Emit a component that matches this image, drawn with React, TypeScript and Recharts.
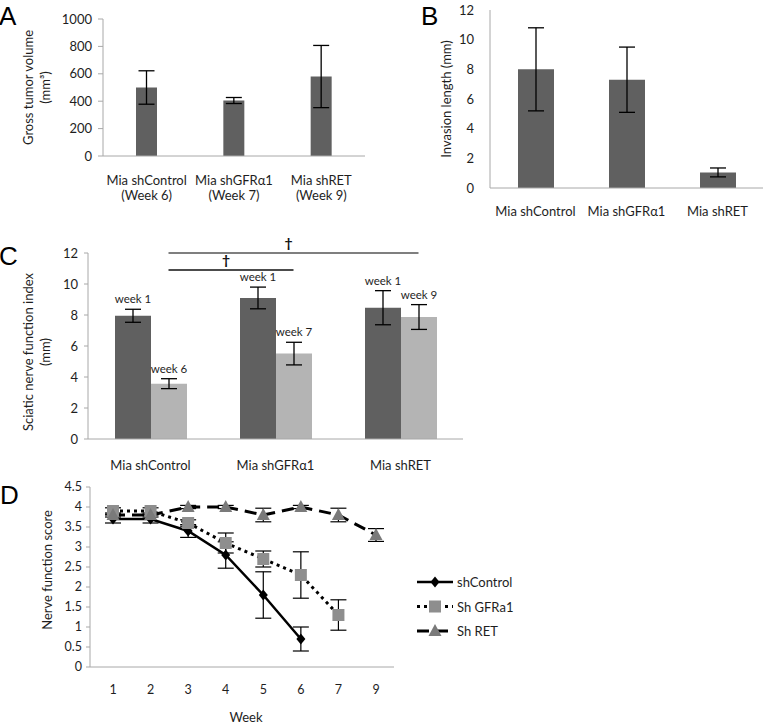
import React from 'react';
import {
  BarChart,
  Bar,
  XAxis,
  YAxis,
  ErrorBar,
  LabelList,
  LineChart,
  Line,
  ReferenceLine,
  Legend,
} from 'recharts';

const FONT = 'Lato, "Open Sans", "DejaVu Sans", sans-serif';
const LETTER_FONT = '"Liberation Sans", Arial, sans-serif';
const TEXT = '#1e1e1e';
const AXIS = '#a8a8a8';
const DARK = '#606060';
const LIGHT = '#b4b4b4';

// ---------- Panel A: gross tumor volume ----------
const volumeGroups = ['Mia shControl', 'Mia shGFRα1', 'Mia shRET'];
const volumeWeeks = ['(Week 6)', '(Week 7)', '(Week 9)'];
const volumeValues = [500, 405, 580];
const volumeErrors = [122, 22, 227];
const volumeTicks = [0, 200, 400, 600, 800, 1000];

// ---------- Panel B: invasion length ----------
const invasionGroups = ['Mia shControl', 'Mia shGFRα1', 'Mia shRET'];
const invasionValues = [8.0, 7.3, 1.05];
const invasionErrors = [2.8, 2.2, 0.3];
const invasionTicks = [0, 2, 4, 6, 8, 10, 12];

// ---------- Panel C: sciatic nerve function index ----------
const sciaticGroups = ['Mia shControl', 'Mia shGFRα1', 'Mia shRET'];
const sciaticWeek1 = [7.95, 9.1, 8.47];
const sciaticWeek1Err = [0.42, 0.7, 1.1];
const sciaticWeek1Labels = ['week 1', 'week 1', 'week 1'];
const sciaticEnd = [3.57, 5.51, 7.87];
const sciaticEndErr = [0.32, 0.73, 0.8];
const sciaticEndLabels = ['week 6', 'week 7', 'week 9'];
const sciaticTicks = [0, 2, 4, 6, 8, 10, 12];
const sigFrom = [0, 0];
const sigTo = [2, 1];
const sigLevel = [12, 10.9];
const sigMark = ['†', '†'];

// ---------- Panel D: nerve function score ----------
const weeks = ['1', '2', '3', '4', '5', '6', '7', '9'];
const shControl = [3.7, 3.7, 3.4, 2.8, 1.8, 0.7, null, null];
const shControlErr = [0.1, 0.1, 0.16, 0.33, 0.58, 0.3, null, null];
const shGFRa1 = [3.9, 3.9, 3.6, 3.1, 2.7, 2.3, 1.3, null];
const shGFRa1Err = [0.08, 0.08, 0.08, 0.25, 0.2, 0.58, 0.38, null];
const shRET = [3.8, 3.8, 4.0, 4.0, 3.8, 4.0, 3.8, 3.3];
const shRETErr = [0.05, 0.05, 0.04, 0.04, 0.17, 0.04, 0.17, 0.16];
const nerveTicks = [0, 0.5, 1, 1.5, 2, 2.5, 3, 3.5, 4, 4.5];
const seriesNames = ['shControl', 'Sh GFRa1', 'Sh RET'];

// ---------- tables ----------
const volumeData = volumeGroups.map((g, i) => ({ group: g, value: volumeValues[i], err: volumeErrors[i] }));
const invasionData = invasionGroups.map((g, i) => ({ group: g, value: invasionValues[i], err: invasionErrors[i] }));
const sciaticData = sciaticGroups.map((g, i) => ({
  group: g,
  week1: sciaticWeek1[i],
  week1Err: sciaticWeek1Err[i],
  end: sciaticEnd[i],
  endErr: sciaticEndErr[i],
}));
const nerveData = weeks.map((w, i) => ({
  week: w,
  shControl: shControl[i],
  shControlErr: shControlErr[i],
  shGFRa1: shGFRa1[i],
  shGFRa1Err: shGFRa1Err[i],
  shRET: shRET[i],
  shRETErr: shRETErr[i],
}));

const BAR_C = 36;

// ---------- helpers ----------
function AxisTitle(props: any) {
  const { viewBox, lines, dist, dy = 0, fontSize = 13 } = props;
  if (!viewBox) return null;
  const right = viewBox.x + viewBox.width;
  const cy = viewBox.y + viewBox.height / 2 + dy;
  return (
    <g>
      {lines.map((l: string, i: number) => {
        const cx = right - dist[i];
        return (
          <text
            key={i}
            x={cx}
            y={cy}
            transform={`rotate(-90 ${cx} ${cy})`}
            textAnchor="middle"
            dominantBaseline="central"
            fontSize={fontSize}
            fontFamily={FONT}
            fill={TEXT}
          >
            {l}
          </text>
        );
      })}
    </g>
  );
}

function CatTick(props: any) {
  const { x, y, payload, index, offset, second, fontSize = 13, lineGap = 15 } = props;
  return (
    <g>
      <text x={x} y={y + offset} textAnchor="middle" dominantBaseline="central" fontSize={fontSize} fontFamily={FONT} fill={TEXT}>
        {payload.value}
      </text>
      {second ? (
        <text
          x={x}
          y={y + offset + lineGap}
          textAnchor="middle"
          dominantBaseline="central"
          fontSize={fontSize}
          fontFamily={FONT}
          fill={TEXT}
        >
          {second[index]}
        </text>
      ) : null}
    </g>
  );
}

function WeekLabel(props: any) {
  const { labels, errs, index, value } = props;
  const vb = props.viewBox && props.viewBox.width != null ? props.viewBox : props;
  const { x, y, width, height } = vb;
  if (x == null || value == null) return null;
  const perUnit = height / value;
  const top = y - errs[index] * perUnit;
  return (
    <text x={x + width / 2} y={top - 6} textAnchor="middle" fontSize={11.5} fontFamily={FONT} fill={TEXT}>
      {labels[index]}
    </text>
  );
}

function Bracket(props: any) {
  const { x1, y1, x2, y2, shift, mark, color } = props;
  if (x1 == null) return null;
  const a = x1 + shift;
  const b = x2 + shift;
  return (
    <g>
      <line x1={a} y1={y1} x2={b} y2={y2} stroke={color} strokeWidth={1.4} />
      <text x={(a + b) / 2 - 5} y={y1 - 5} textAnchor="middle" fontSize={14} fontFamily={FONT} fontWeight={700} fill="#111">
        {mark}
      </text>
    </g>
  );
}

const tickStyle = { fontSize: 13, fill: TEXT, fontFamily: FONT };
const tickStyleD = { fontSize: 12.5, fill: TEXT, fontFamily: FONT };

function DiamondDot(props: any) {
  const { cx, cy, index } = props;
  if (cx == null || cy == null || Number.isNaN(cy)) return <g key={`d${index}`} />;
  return <path key={`d${index}`} d={`M${cx},${cy - 5.5}L${cx + 4.5},${cy}L${cx},${cy + 5.5}L${cx - 4.5},${cy}Z`} fill="#000" />;
}
function SquareDot(props: any) {
  const { cx, cy, index } = props;
  if (cx == null || cy == null || Number.isNaN(cy)) return <g key={`s${index}`} />;
  return <rect key={`s${index}`} x={cx - 6} y={cy - 6} width={12} height={12} fill="#8e8e8e" />;
}
function TriangleDot(props: any) {
  const { cx, cy, index } = props;
  if (cx == null || cy == null || Number.isNaN(cy)) return <g key={`t${index}`} />;
  return <path key={`t${index}`} d={`M${cx},${cy - 7}L${cx + 6.5},${cy + 5}L${cx - 6.5},${cy + 5}Z`} fill="#7a7a7a" />;
}

const seriesStyles = [
  { key: 'shControl', width: 2.5, dash: undefined as string | undefined, Dot: DiamondDot },
  { key: 'shGFRa1', width: 3, dash: '3 4', Dot: SquareDot },
  { key: 'shRET', width: 3, dash: '12 7', Dot: TriangleDot },
];

function LegendContent() {
  return (
    <svg width={110} height={72} style={{ overflow: 'visible' }}>
      {seriesStyles.map((s, i) => {
        const y = 10 + i * 24.5;
        const Dot = s.Dot;
        return (
          <g key={s.key}>
            <line x1={2} x2={38} y1={y} y2={y} stroke="#000" strokeWidth={s.width} strokeDasharray={s.dash} />
            <Dot cx={20} cy={y} index={i} />
            <text x={42} y={y} dominantBaseline="central" fontSize={13} fontFamily={FONT} fill={TEXT}>
              {seriesNames[i]}
            </text>
          </g>
        );
      })}
    </svg>
  );
}

export default function App() {
  return (
    <div style={{ position: 'absolute', left: 0, top: 0, width: 765, height: 725, background: '#fff', fontFamily: FONT }}>
      <svg width={765} height={725} style={{ position: 'absolute', left: 0, top: 0, pointerEvents: 'none' }}>
        <text x={-1} y={25} fontSize={26} fontFamily={LETTER_FONT} fill="#000">A</text>
        <text x={421} y={25} fontSize={26} fontFamily={LETTER_FONT} fill="#000">B</text>
        <text x={-1} y={265} fontSize={26} fontFamily={LETTER_FONT} fill="#000">C</text>
        <text x={0} y={504} fontSize={26} fontFamily={LETTER_FONT} fill="#000">D</text>
      </svg>

      {/* Panel A */}
      <div style={{ position: 'absolute', left: 0, top: 0 }}>
        <BarChart width={390} height={210} data={volumeData} margin={{ top: 19, right: 25, bottom: 0, left: 0 }} barSize={21}>
          <XAxis
            dataKey="group"
            interval={0}
            axisLine={{ stroke: AXIS }}
            tickLine={false}
            tickSize={0}
            tickMargin={0}
            height={54}
            tick={(p: any) => <CatTick {...p} offset={24} second={volumeWeeks} />}
          />
          <YAxis
            width={103}
            domain={[0, 1000]}
            ticks={volumeTicks}
            interval={0}
            axisLine={{ stroke: AXIS }}
            tickLine={{ stroke: AXIS }}
            tickSize={5}
            tickMargin={6}
            tick={tickStyle}
            label={{ content: (p: any) => <AxisTitle viewBox={p.viewBox} lines={['Gross tumor volume', '(mm³)']} dist={[75, 58]} /> }}
          />
          <Bar dataKey="value" fill={DARK} isAnimationActive={false}>
            <ErrorBar dataKey="err" width={8} stroke="#000" strokeWidth={1.3} />
          </Bar>
        </BarChart>
      </div>

      {/* Panel B */}
      <div style={{ position: 'absolute', left: 390, top: 0 }}>
        <BarChart width={375} height={225} data={invasionData} margin={{ top: 10, right: 2, bottom: 0, left: 0 }} barSize={36}>
          <XAxis
            dataKey="group"
            interval={0}
            axisLine={{ stroke: AXIS }}
            tickLine={false}
            tickSize={0}
            tickMargin={0}
            height={37}
            tick={(p: any) => <CatTick {...p} offset={23} />}
          />
          <YAxis
            width={100}
            domain={[0, 12]}
            ticks={invasionTicks}
            interval={0}
            axisLine={{ stroke: AXIS }}
            tickLine={false}
            tickSize={0}
            tickMargin={16}
            tick={tickStyle}
            label={{ content: (p: any) => <AxisTitle viewBox={p.viewBox} lines={['Invasion length (mm)']} dist={[44]} /> }}
          />
          <Bar dataKey="value" fill={DARK} isAnimationActive={false}>
            <ErrorBar dataKey="err" width={8} stroke="#000" strokeWidth={1.3} />
          </Bar>
        </BarChart>
      </div>

      {/* Panel C */}
      <div style={{ position: 'absolute', left: 0, top: 200 }}>
        <BarChart
          width={480}
          height={280}
          data={sciaticData}
          margin={{ top: 53, right: 17, bottom: 0, left: 0 }}
          barGap={0}
          barSize={BAR_C}
        >
          <XAxis
            dataKey="group"
            interval={0}
            axisLine={{ stroke: AXIS }}
            tickLine={false}
            tickSize={0}
            tickMargin={0}
            height={41}
            tick={(p: any) => <CatTick {...p} offset={26} />}
          />
          <YAxis
            width={88}
            domain={[0, 12]}
            ticks={sciaticTicks}
            interval={0}
            axisLine={{ stroke: AXIS }}
            tickLine={{ stroke: AXIS }}
            tickSize={4}
            tickMargin={6}
            tick={tickStyle}
            label={{
              content: (p: any) => (
                <AxisTitle viewBox={p.viewBox} lines={['Sciatic nerve function index', '(mm)']} dist={[60, 43]} dy={6} />
              ),
            }}
          />
          <Bar dataKey="week1" fill={DARK} isAnimationActive={false}>
            <ErrorBar dataKey="week1Err" width={8} stroke="#000" strokeWidth={1.3} />
            <LabelList content={(p: any) => <WeekLabel {...p} labels={sciaticWeek1Labels} errs={sciaticWeek1Err} />} />
          </Bar>
          <Bar dataKey="end" fill={LIGHT} isAnimationActive={false}>
            <ErrorBar dataKey="endErr" width={8} stroke="#000" strokeWidth={1.3} />
            <LabelList content={(p: any) => <WeekLabel {...p} labels={sciaticEndLabels} errs={sciaticEndErr} />} />
          </Bar>
          {sigFrom.map((f, i) => (
            <ReferenceLine
              key={`sig${i}`}
              segment={[
                { x: sciaticGroups[f], y: sigLevel[i] },
                { x: sciaticGroups[sigTo[i]], y: sigLevel[i] },
              ]}
              ifOverflow="visible"
              shape={(p: any) => <Bracket {...p} shift={BAR_C / 2} mark={sigMark[i]} color={i === 0 ? '#555' : '#111'} />}
            />
          ))}
        </BarChart>
      </div>

      {/* Panel D */}
      <div style={{ position: 'absolute', left: 0, top: 480 }}>
        <LineChart width={530} height={245} data={nerveData} margin={{ top: 7, right: 136, bottom: 0, left: 0 }}>
          <XAxis
            dataKey="week"
            interval={0}
            padding={{ left: 23, right: 18 }}
            axisLine={{ stroke: AXIS }}
            tickLine={false}
            tickSize={0}
            tickMargin={0}
            height={58}
            tick={(p: any) => <CatTick {...p} offset={22} fontSize={12.5} />}
            label={{
              content: (p: any) =>
                p.viewBox ? (
                  <text
                    x={p.viewBox.x + p.viewBox.width / 2 + 4}
                    y={p.viewBox.y + 50}
                    textAnchor="middle"
                    dominantBaseline="central"
                    fontSize={13}
                    fontFamily={FONT}
                    fill={TEXT}
                  >
                    Week
                  </text>
                ) : null,
            }}
          />
          <YAxis
            width={90}
            domain={[0, 4.5]}
            ticks={nerveTicks}
            interval={0}
            axisLine={{ stroke: AXIS }}
            tickLine={{ stroke: AXIS }}
            tickSize={4}
            tickMargin={4}
            tick={tickStyleD}
            label={{ content: (p: any) => <AxisTitle viewBox={p.viewBox} lines={['Nerve function score']} dist={[43]} dy={-7} /> }}
          />
          {seriesStyles.map((s) => (
            <Line
              key={s.key}
              dataKey={s.key}
              stroke="#000"
              strokeWidth={s.width}
              strokeDasharray={s.dash}
              dot={(p: any) => <s.Dot {...p} />}
              activeDot={false}
              isAnimationActive={false}
            >
              <ErrorBar dataKey={`${s.key}Err`} width={8} stroke="#000" strokeWidth={1.2} />
            </Line>
          ))}
          <Legend
            layout="vertical"
            align="center"
            verticalAlign="middle"
            wrapperStyle={{ left: 415, top: 92, width: 110 }}
            content={() => <LegendContent />}
          />
        </LineChart>
      </div>
    </div>
  );
}
